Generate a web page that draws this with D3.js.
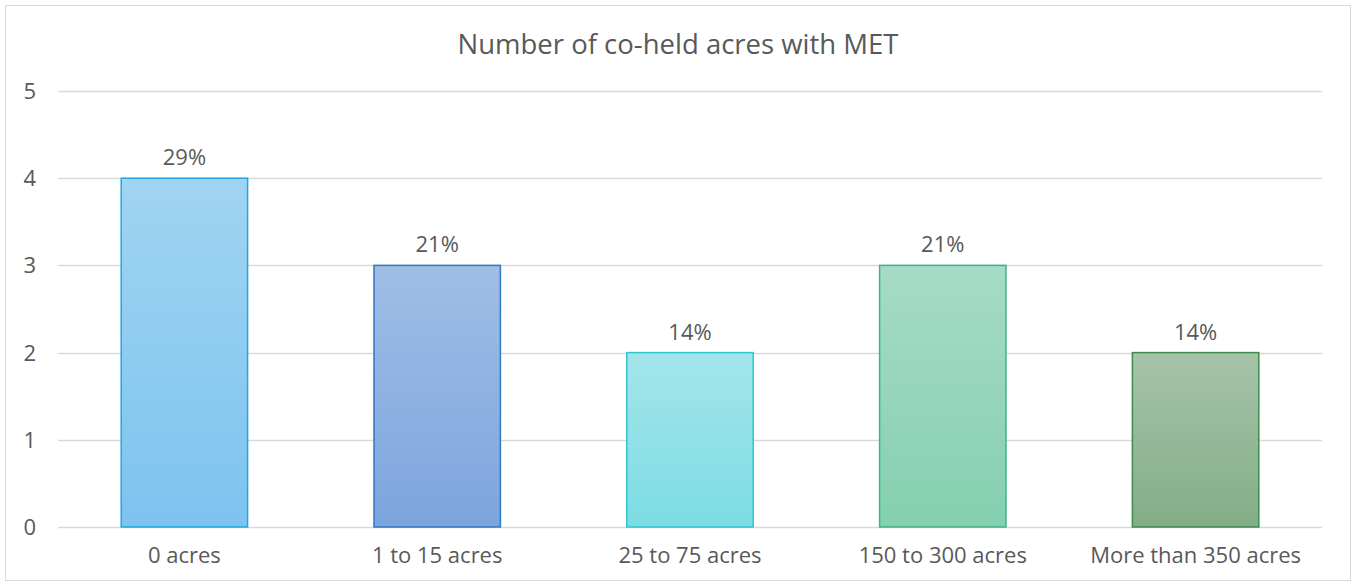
<!DOCTYPE html>
<html>
<head>
<meta charset="utf-8">
<script src="https://cdn.jsdelivr.net/npm/d3@7"></script>
<style>
  body { margin: 0; background: #fff; }
  text { font-family: "Open Sans", "Liberation Sans", sans-serif; fill: #595959; }
</style>
</head>
<body>
<script>
// chart data
const categories = ['0 acres', '1 to 15 acres', '25 to 75 acres', '150 to 300 acres', 'More than 350 acres'];
const counts = [4, 3, 2, 3, 2];
const percentLabels = ['29%', '21%', '14%', '21%', '14%'];
const yTicks = [0, 1, 2, 3, 4, 5];

// colours per bar: top, bottom, outline
const barTop = ['#a0d4f2', '#a0bde6', '#a4e5eb', '#a6dbc7', '#a6c4a8'];
const barBottom = ['#7dc3ef', '#7ca5de', '#7cdce3', '#85cfb0', '#83ad87'];
const barStroke = ['#1ea8e0', '#2d7abf', '#2ec6cf', '#3fb489', '#3d8c4e'];

const width = 1358;
const height = 582;
const plotLeft = 58, plotRight = 1322, plotTop = 91, plotBottom = 527;

const svg = d3.select('body')
    .append('svg')
        .attr('width', width)
        .attr('height', height);

// chart border
svg.append('rect')
    .attr('x', 5.5).attr('y', 5.5)
    .attr('width', 1345).attr('height', 575)
    .attr('fill', '#fff')
    .attr('stroke', '#d9d9d9');

// title
svg.append('text')
    .attr('x', 678)
    .attr('y', 54)
    .attr('text-anchor', 'middle')
    .style('font-size', '27.5px')
    .text('Number of co-held acres with MET');

const xScale = d3.scaleBand()
    .domain(categories)
    .range([plotLeft, plotRight])
    .paddingInner(0.5)
    .paddingOuter(0.25);

const yScale = d3.scaleLinear()
    .domain([0, 5])
    .range([plotBottom, plotTop]);

// gradients
const defs = svg.append('defs');
categories.forEach((c, i) => {
    const grad = defs.append('linearGradient')
        .attr('id', 'grad' + i)
        .attr('x1', 0).attr('y1', 0).attr('x2', 0).attr('y2', 1);
    grad.append('stop').attr('offset', '0%').attr('stop-color', barTop[i]);
    grad.append('stop').attr('offset', '100%').attr('stop-color', barBottom[i]);
});

// grid lines
svg.append('g')
    .selectAll('line')
    .data(yTicks)
    .enter()
        .append('line')
            .attr('x1', plotLeft)
            .attr('x2', plotRight)
            .attr('y1', d => Math.round(yScale(d)) + 0.5)
            .attr('y2', d => Math.round(yScale(d)) + 0.5)
            .attr('stroke', '#d9d9d9')
            .attr('stroke-width', 1.5);

// y-axis labels
svg.append('g')
    .selectAll('text')
    .data(yTicks)
    .enter()
        .append('text')
            .attr('x', 36)
            .attr('y', d => yScale(d) + 8)
            .attr('text-anchor', 'end')
            .style('font-size', '22px')
            .text(d => d);

// bars
svg.append('g')
    .selectAll('rect')
    .data(counts)
    .enter()
        .append('rect')
            .attr('x', (d, i) => xScale(categories[i]))
            .attr('y', d => yScale(d))
            .attr('width', xScale.bandwidth())
            .attr('height', d => yScale(0) - yScale(d))
            .attr('fill', (d, i) => 'url(#grad' + i + ')')
            .attr('stroke', (d, i) => barStroke[i])
            .attr('stroke-width', 1.5);

// data labels
svg.append('g')
    .selectAll('text')
    .data(counts)
    .enter()
        .append('text')
            .attr('x', (d, i) => xScale(categories[i]) + xScale.bandwidth() / 2)
            .attr('y', d => yScale(d) - 13)
            .attr('text-anchor', 'middle')
            .style('font-size', '22px')
            .text((d, i) => percentLabels[i]);

// x-axis labels
svg.append('g')
    .selectAll('text')
    .data(categories)
    .enter()
        .append('text')
            .attr('x', d => xScale(d) + xScale.bandwidth() / 2)
            .attr('y', 563)
            .attr('text-anchor', 'middle')
            .style('font-size', '22px')
            .text(d => d);
</script>
</body>
</html>
